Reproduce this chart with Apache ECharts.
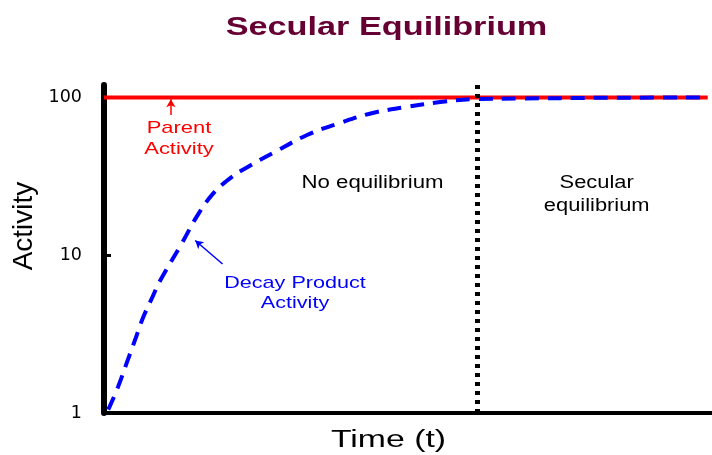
<!DOCTYPE html>
<html><head><meta charset="utf-8">
<script src="https://cdn.jsdelivr.net/npm/echarts@6/dist/echarts.min.js"></script>
<style>html,body{margin:0;padding:0;background:#fff}#c{width:712px;height:455px}</style>
</head><body><div id="c"></div>
<script>
// ---- data ----
const decayTime     = [0.7, 2.3, 3.8, 5.1, 6.4, 7.9, 9.2, 12.8, 15.3, 17.9, 20.6, 23.2, 27.8, 33.4, 38.8, 44.2, 49.8, 55.3, 61.3, 68.4, 81.6, 99.3];
const decayActivity = [1.05, 1.46, 2.11, 2.90, 4.00, 5.36, 6.87, 11.9, 17.7, 24.5, 30.5, 35.5, 44.5, 57.8, 68.9, 79.8, 87.1, 93.6, 97.8, 98.5, 99.5, 100];
const parentTime     = [0, 99.3];
const parentActivity = [100, 100];
const equilibriumTime = 61.35;
const yTickValues = [1, 10, 100];
const parentArrow = [[11.0, 77.5], [11.0, 97.4]];
const decayArrow  = [[19.5, 8.8], [15.0, 12.4]];

const FONT = '"Liberation Sans", Arial, sans-serif';
function txt(text, x, y, size, color, sx, bold, rot) {
  return {
    type: 'text', x: x, y: y, scaleX: sx || 1, rotation: rot || 0, z: 100,
    style: {
      text: text, fill: color,
      font: (bold ? 'bold ' : '') + size + 'px ' + FONT,
      align: 'center', verticalAlign: 'middle',
      textAlign: 'center', textVerticalAlign: 'middle'
    }
  };
}

const chart = echarts.init(document.getElementById('c'), null, {renderer: 'canvas'});
chart.setOption({
  animation: false,
  backgroundColor: '#fff',
  grid: {left: 104, right: 0, top: 85, bottom: 42, containLabel: false},
  xAxis: {
    type: 'value', min: 0, max: 100,
    axisLine: {show: true, lineStyle: {color: '#000', width: 4}},
    axisTick: {show: false}, axisLabel: {show: false}, splitLine: {show: false}
  },
  yAxis: {
    type: 'log', min: 1, max: 120, logBase: 10,
    axisLine: {show: true, lineStyle: {color: '#000', width: 6}},
    axisTick: {show: true, inside: true, length: 7, lineStyle: {color: '#000', width: 3}, customValues: yTickValues},
    axisLabel: {show: true, margin: 22, color: '#000', fontSize: 17.5, fontFamily: '"DejaVu Sans", sans-serif', customValues: yTickValues},
    splitLine: {show: false}
  },
  series: [
    {
      type: 'line', name: 'Parent Activity', showSymbol: false, symbol: 'none', z: 2,
      data: parentTime.map((t, i) => [t, parentActivity[i]]),
      lineStyle: {color: '#ff0000', width: 4},
      markLine: {
        silent: true, symbol: ['none', 'arrow'], symbolSize: [7, 8],
        label: {show: false},
        lineStyle: {color: '#ff0000', width: 1.5, type: 'solid'},
        data: [[{coord: parentArrow[0]}, {coord: parentArrow[1]}]]
      }
    },
    {
      type: 'line', name: 'Decay Product Activity', showSymbol: false, symbol: 'none', smooth: 0.4, z: 3,
      data: decayTime.map((t, i) => [t, decayActivity[i]]),
      lineStyle: {color: '#0000ff', width: 4, type: [14, 9]},
      markLine: {
        silent: true, symbol: ['none', 'arrow'], symbolSize: [7, 8],
        label: {show: false},
        lineStyle: {color: '#0000ff', width: 1.5, type: 'solid'},
        data: [[{coord: decayArrow[0]}, {coord: decayArrow[1]}]]
      }
    },
    {
      type: 'line', name: 'boundary', data: [], z: 5,
      markLine: {
        silent: true, symbol: ['none', 'none'], label: {show: false},
        lineStyle: {color: '#000', width: 5, type: [4, 5]},
        data: [{xAxis: equilibriumTime}]
      }
    }
  ],
  graphic: [
    txt('Secular Equilibrium', 386.5, 28.5, 25, '#660033', 1.37, true),
    txt('Parent', 179, 128, 17, '#ff0000', 1.29),
    txt('Activity', 179, 149, 17, '#ff0000', 1.29),
    txt('No equilibrium', 372.5, 183.5, 17.5, '#000', 1.27),
    txt('Secular', 596.7, 183, 17.5, '#000', 1.25),
    txt('equilibrium', 596.7, 206, 17.5, '#000', 1.25),
    txt('Decay Product', 295, 283, 17, '#0000ff', 1.27),
    txt('Activity', 295, 303.5, 17, '#0000ff', 1.27),
    txt('Time (t)', 388.5, 440.5, 23, '#000', 1.47),
    txt('Activity', 24.5, 226, 28, '#000', 1, false, Math.PI / 2)
  ]
});
</script>
</body></html>
